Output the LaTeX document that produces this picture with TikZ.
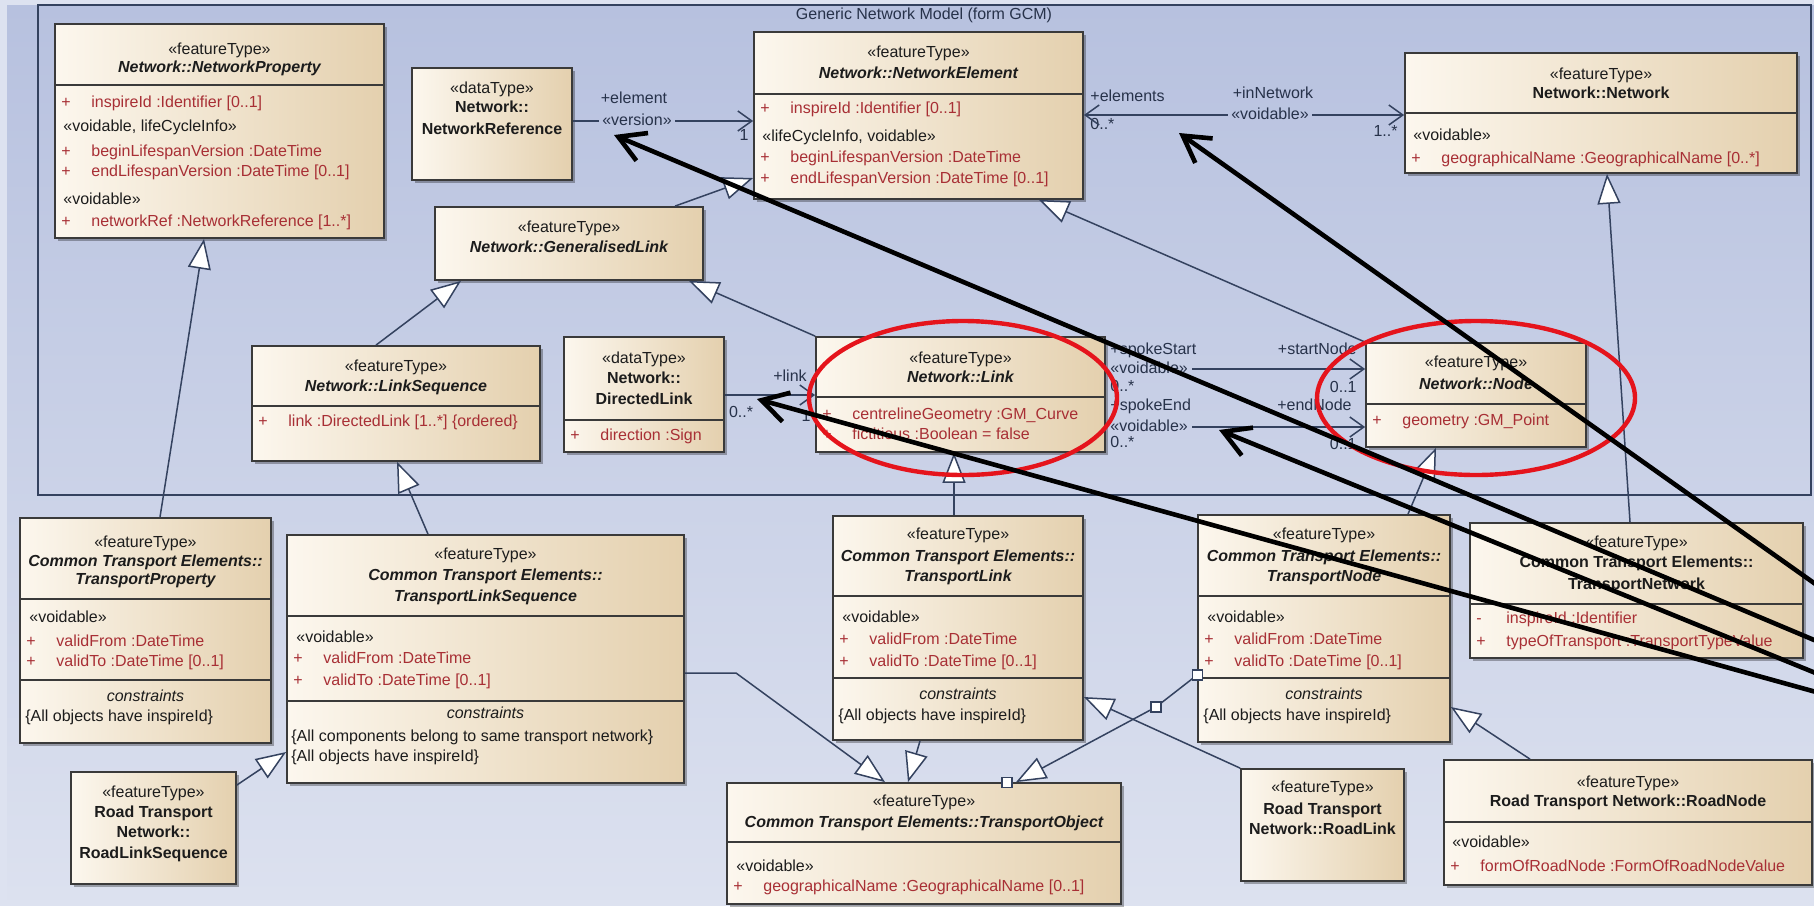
\documentclass[tikz,border=0pt]{standalone}
\usepackage{fontspec}
\setmainfont{Liberation Sans}
\usetikzlibrary{arrows.meta,fit,shadows}

\definecolor{outerbg}{HTML}{DDE2F0}
\definecolor{bgtop}{HTML}{B7C1DF}
\definecolor{bgbot}{HTML}{DCE1EF}
\definecolor{boxl}{HTML}{FCF7EE}
\definecolor{boxr}{HTML}{E4D0AE}
\definecolor{boxline}{HTML}{3A3A3A}
\definecolor{conn}{HTML}{34425F}
\definecolor{ink}{HTML}{1C1C1C}
\definecolor{attrred}{HTML}{A82F35}
\definecolor{lblc}{HTML}{27324A}
\definecolor{ringred}{HTML}{E5141C}

% visibility marker followed by the attribute text
\newcommand\vis[2]{\makebox[15pt][l]{#1}#2}

\begin{document}
\begin{tikzpicture}[x=0.5pt,y=-0.5pt,
  font=\fontsize{8}{10}\selectfont,
  cls/.style={draw=boxline, line width=0.9pt, left color=boxl, right color=boxr, inner sep=0pt,
    drop shadow={shadow xshift=1.6pt, shadow yshift=-1.6pt, opacity=0.3, fill=black}},
  dv/.style={draw=boxline, line width=0.8pt},
  tx/.style={inner sep=0pt, text height=6pt, text depth=1.7pt, text=ink},
  nmi/.style={tx, font=\fontsize{8}{10}\selectfont\bfseries\itshape},
  nmb/.style={tx, font=\fontsize{8}{10}\selectfont\bfseries},
  atr/.style={tx, anchor=west, text=attrred},
  ast/.style={tx, anchor=west},
  cst/.style={tx, font=\fontsize{8}{10}\selectfont\itshape},
  cnl/.style={tx, text=lblc},
  gen/.style={draw=conn, line width=0.75pt, -{Triangle[fill=white, length=15pt, width=11.5pt]}},
  asc/.style={draw=conn, line width=0.75pt},
  nav/.style={asc, -{Straight Barb[length=7pt, width=10pt]}},
  hnd/.style={draw=conn, fill=white, line width=0.6pt, minimum size=5pt, inner sep=0pt},
  ring/.style={draw=ringred, line width=2.2pt},
  pointer/.style={draw=black, line width=2.3pt, -{Straight Barb[length=13pt, width=15pt]}},
]
\useasboundingbox (0,0) rectangle (1814,906);

% ---------- background and package frame ----------
\fill[outerbg] (0,0) rectangle (1814,906);
\shade[top color=bgtop, bottom color=bgbot] (7,5) rectangle (1814,899);
\draw[conn, line width=0.8pt] (38,5) rectangle (1811,495);
\node[cnl] (title) at (924,15) {Generic Network Model (form GCM)};

% ---------- classes of the Network package ----------
\node[cls, fit={(55,24)(384,238)}] (np) {};
\draw[dv] (np.west |- 0,85) -- (np.east |- 0,85);
\node[tx]  (np-s) at (219.5,50) {«featureType»};
\node[nmi] (np-n) at (219.5,68) {Network::NetworkProperty};
\node[atr] (np-a1) at (61,103) {\vis{+}{inspireId :Identifier [0..1]}};
\node[ast] (np-t1) at (63,127) {«voidable, lifeCycleInfo»};
\node[atr] (np-a2) at (61,152) {\vis{+}{beginLifespanVersion :DateTime}};
\node[atr] (np-a3) at (61,172) {\vis{+}{endLifespanVersion :DateTime [0..1]}};
\node[ast] (np-t2) at (63,200) {«voidable»};
\node[atr] (np-a4) at (61,222) {\vis{+}{networkRef :NetworkReference [1..*]}};

\node[cls, fit={(412,68)(572,180)}] (nr) {};
\node[tx]  (nr-s) at (492,89) {«dataType»};
\node[nmb] (nr-n1) at (492,108) {Network::};
\node[nmb] (nr-n2) at (492,130) {NetworkReference};

\node[cls, fit={(754,32)(1083,199)}] (ne) {};
\draw[dv] (ne.west |- 0,94) -- (ne.east |- 0,94);
\node[tx]  (ne-s) at (918.5,53) {«featureType»};
\node[nmi] (ne-n) at (918.5,74) {Network::NetworkElement};
\node[atr] (ne-a1) at (760,109) {\vis{+}{inspireId :Identifier [0..1]}};
\node[ast] (ne-t1) at (762,137) {«lifeCycleInfo, voidable»};
\node[atr] (ne-a2) at (760,158) {\vis{+}{beginLifespanVersion :DateTime}};
\node[atr] (ne-a3) at (760,179) {\vis{+}{endLifespanVersion :DateTime [0..1]}};

\node[cls, fit={(1405,53)(1797,173)}] (nw) {};
\draw[dv] (nw.west |- 0,113) -- (nw.east |- 0,113);
\node[tx]  (nw-s) at (1601,75) {«featureType»};
\node[nmb] (nw-n) at (1601,94) {Network::Network};
\node[ast] (nw-t1) at (1413,136) {«voidable»};
\node[atr] (nw-a1) at (1411,159) {\vis{+}{geographicalName :GeographicalName [0..*]}};

\node[cls, fit={(435,207)(703,280)}] (gl) {};
\node[tx]  (gl-s) at (569,228) {«featureType»};
\node[nmi] (gl-n) at (569,248) {Network::GeneralisedLink};

\node[cls, fit={(252,346)(540,461)}] (ls) {};
\draw[dv] (ls.west |- 0,406) -- (ls.east |- 0,406);
\node[tx]  (ls-s) at (396,367) {«featureType»};
\node[nmi] (ls-n) at (396,387) {Network::LinkSequence};
\node[atr] (ls-a1) at (258,422) {\vis{+}{link :DirectedLink [1..*] \{ordered\}}};

\node[cls, fit={(564,337)(724,452)}] (dl) {};
\draw[dv] (dl.west |- 0,420) -- (dl.east |- 0,420);
\node[tx]  (dl-s) at (644,359) {«dataType»};
\node[nmb] (dl-n1) at (644,379) {Network::};
\node[nmb] (dl-n2) at (644,400) {DirectedLink};
\node[atr] (dl-a1) at (570,436) {\vis{+}{direction :Sign}};

\node[cls, fit={(816,337)(1105,452)}] (lk) {};
\draw[dv] (lk.west |- 0,397) -- (lk.east |- 0,397);
\node[tx]  (lk-s) at (960.5,359) {«featureType»};
\node[nmi] (lk-n) at (960.5,378) {Network::Link};
\node[atr] (lk-a1) at (822,415) {\vis{+}{centrelineGeometry :GM\_Curve}};
\node[atr] (lk-a2) at (822,435) {\vis{+}{fictitious :Boolean = false}};

\node[cls, fit={(1366,343)(1586,447)}] (nd) {};
\draw[dv] (nd.west |- 0,404) -- (nd.east |- 0,404);
\node[tx]  (nd-s) at (1476,363) {«featureType»};
\node[nmi] (nd-n) at (1476,385) {Network::Node};
\node[atr] (nd-a1) at (1372,421) {\vis{+}{geometry :GM\_Point}};

% ---------- Common Transport Elements and Road Transport Network ----------
\node[cls, fit={(20,518)(271,743)}] (tp) {};
\draw[dv] (tp.west |- 0,599) -- (tp.east |- 0,599);
\draw[dv] (tp.west |- 0,680) -- (tp.east |- 0,680);
\node[tx]  (tp-s) at (145.5,543) {«featureType»};
\node[nmi] (tp-n1) at (145.5,562) {Common Transport Elements::};
\node[nmi] (tp-n2) at (145.5,580) {TransportProperty};
\node[ast] (tp-t1) at (29,618) {«voidable»};
\node[atr] (tp-a1) at (26,642) {\vis{+}{validFrom :DateTime}};
\node[atr] (tp-a2) at (26,662) {\vis{+}{validTo :DateTime [0..1]}};
\node[cst] (tp-c) at (145.5,697) {constraints};
\node[ast] (tp-k1) at (25,717) {\{All objects have inspireId\}};

\node[cls, fit={(287,535)(684,783)}] (tls) {};
\draw[dv] (tls.west |- 0,616) -- (tls.east |- 0,616);
\draw[dv] (tls.west |- 0,701) -- (tls.east |- 0,701);
\node[tx]  (tls-s) at (485.5,555) {«featureType»};
\node[nmi] (tls-n1) at (485.5,576) {Common Transport Elements::};
\node[nmi] (tls-n2) at (485.5,597) {TransportLinkSequence};
\node[ast] (tls-t1) at (296,638) {«voidable»};
\node[atr] (tls-a1) at (293,659) {\vis{+}{validFrom :DateTime}};
\node[atr] (tls-a2) at (293,681) {\vis{+}{validTo :DateTime [0..1]}};
\node[cst] (tls-c) at (485.5,714) {constraints};
\node[ast] (tls-k1) at (291,737) {\{All components belong to same transport network\}};
\node[ast] (tls-k2) at (291,757) {\{All objects have inspireId\}};

\node[cls, fit={(833,516)(1083,740)}] (tl) {};
\draw[dv] (tl.west |- 0,596) -- (tl.east |- 0,596);
\draw[dv] (tl.west |- 0,678) -- (tl.east |- 0,678);
\node[tx]  (tl-s) at (958,535) {«featureType»};
\node[nmi] (tl-n1) at (958,557) {Common Transport Elements::};
\node[nmi] (tl-n2) at (958,577) {TransportLink};
\node[ast] (tl-t1) at (842,618) {«voidable»};
\node[atr] (tl-a1) at (839,640) {\vis{+}{validFrom :DateTime}};
\node[atr] (tl-a2) at (839,662) {\vis{+}{validTo :DateTime [0..1]}};
\node[cst] (tl-c) at (958,695) {constraints};
\node[ast] (tl-k1) at (838,716) {\{All objects have inspireId\}};

\node[cls, fit={(1198,515)(1450,742)}] (tn) {};
\draw[dv] (tn.west |- 0,596) -- (tn.east |- 0,596);
\draw[dv] (tn.west |- 0,678) -- (tn.east |- 0,678);
\node[tx]  (tn-s) at (1324,535) {«featureType»};
\node[nmi] (tn-n1) at (1324,557) {Common Transport Elements::};
\node[nmi] (tn-n2) at (1324,577) {TransportNode};
\node[ast] (tn-t1) at (1207,618) {«voidable»};
\node[atr] (tn-a1) at (1204,640) {\vis{+}{validFrom :DateTime}};
\node[atr] (tn-a2) at (1204,662) {\vis{+}{validTo :DateTime [0..1]}};
\node[cst] (tn-c) at (1324,695) {constraints};
\node[ast] (tn-k1) at (1203,716) {\{All objects have inspireId\}};

\node[cls, fit={(1470,523)(1803,658)}] (tw) {};
\draw[dv] (tw.west |- 0,604) -- (tw.east |- 0,604);
\node[tx]  (tw-s) at (1636.5,543) {«featureType»};
\node[nmb] (tw-n1) at (1636.5,563) {Common Transport Elements::};
\node[nmb] (tw-n2) at (1636.5,585) {TransportNetwork};
\node[atr] (tw-a1) at (1476,619) {\vis{-}{inspireId :Identifier}};
\node[atr] (tw-a2) at (1476,642) {\vis{+}{typeOfTransport :TransportTypeValue}};

\node[cls, fit={(71,772)(236,884)}] (rls) {};
\node[tx]  (rls-s) at (153.5,793) {«featureType»};
\node[nmb] (rls-n1) at (153.5,813) {Road Transport};
\node[nmb] (rls-n2) at (153.5,833) {Network::};
\node[nmb] (rls-n3) at (153.5,854) {RoadLinkSequence};

\node[cls, fit={(727,783)(1121,904)}] (to) {};
\draw[dv] (to.west |- 0,842) -- (to.east |- 0,842);
\node[tx]  (to-s) at (924,802) {«featureType»};
\node[nmi] (to-n) at (924,823) {Common Transport Elements::TransportObject};
\node[ast] (to-t1) at (736,867) {«voidable»};
\node[atr] (to-a1) at (733,887) {\vis{+}{geographicalName :GeographicalName [0..1]}};

\node[cls, fit={(1241,769)(1404,881)}] (rl) {};
\node[tx]  (rl-s) at (1322.5,788) {«featureType»};
\node[nmb] (rl-n1) at (1322.5,810) {Road Transport};
\node[nmb] (rl-n2) at (1322.5,830) {Network::RoadLink};

\node[cls, fit={(1444,760)(1812,885)}] (rn) {};
\draw[dv] (rn.west |- 0,822) -- (rn.east |- 0,822);
\node[tx]  (rn-s) at (1628,783) {«featureType»};
\node[nmb] (rn-n) at (1628,802) {Road Transport Network::RoadNode};
\node[ast] (rn-t1) at (1452,843) {«voidable»};
\node[atr] (rn-a1) at (1450,867) {\vis{+}{formOfRoadNode :FormOfRoadNodeValue}};

% ---------- generalizations ----------
\draw[gen] (160,0 |- tp.north) -- (204,0 |- np.south);
\draw[gen] (376,0 |- ls.north) -- (461,0 |- gl.south);
\draw[gen] (675,0 |- gl.north) -- (ne.west |- 0,178);
\draw[gen] (lk.north west) -- (689,0 |- gl.south);
\draw[gen] (nd.north west) -- (1039,0 |- ne.south);
\draw[gen] (954,0 |- tl.north) -- (954,0 |- lk.south);
\draw[gen] (1408,0 |- tn.north) -- (1436,0 |- nd.south);
\draw[gen] (1630,0 |- tw.north) -- (1607,0 |- nw.south);
\draw[gen] (428,0 |- tls.north) -- (397,0 |- ls.south);
\draw[gen] (rls.east |- 0,785) -- (tls.west |- 0,752);
\draw[gen] (tls.east |- 0,673) -- (736,673) -- (885,0 |- to.north);
\draw[gen] (920,0 |- tl.south) -- (908,0 |- to.north);
\coordinate (tnb1) at (tn.west |- 0,675);
\coordinate (tnb2) at (1156,707);
\coordinate (tnb3) at (1007,0 |- to.north);
\draw[gen] (tnb1) -- (tnb2) -- (1016,0 |- to.north);
\node[hnd] (tnh1) at (tnb1) {};
\node[hnd] (tnh2) at (tnb2) {};
\node[hnd] (tnh3) at (tnb3) {};
\draw[gen] (rl.north west) -- (tl.east |- 0,697);
\draw[gen] (1530,0 |- rn.north) -- (tn.east |- 0,707);

% ---------- associations ----------
\node[cnl] (el1) at (634,99) {+element};
\node[cnl] (ver) at (637,121) {«version»};
\node[cnl] (one1) at (744,136) {1};
\draw[asc] (nr.east |- ver) -- ([xshift=-1.5pt]ver.west);
\draw[nav] ([xshift=1.5pt]ver.east) -- (ne.west |- ver);

\node[cnl, anchor=west] (els) at (1090,97) {+elements};
\node[cnl, anchor=west] (zm1) at (1090,125) {0..*};
\node[cnl] (inn) at (1273,94) {+inNetwork};
\node[cnl] (nv) at (1270,115) {«voidable»};
\node[cnl, anchor=east] (om) at (1398,132) {1..*};
\draw[asc, {Straight Barb[length=7pt, width=10pt]}-] (ne.east |- nv) -- ([xshift=-1.5pt]nv.west);
\draw[nav] ([xshift=1.5pt]nv.east) -- (nw.west |- nv);

\node[cnl] (lnk) at (790,377) {+link};
\node[cnl] (zm2) at (741,413) {0..*};
\node[cnl] (one2) at (806,417) {1};
\draw[nav] (dl.east |- 0,395) -- (lk.west |- 0,395);

\node[cnl, anchor=west] (sps) at (1110,350) {+spokeStart};
\node[cnl, anchor=west] (sv1) at (1110,369) {«voidable»};
\node[cnl, anchor=west] (zm3) at (1110,387) {0..*};
\node[cnl, anchor=west] (spe) at (1110,406) {+spokeEnd};
\node[cnl, anchor=west] (sv2) at (1110,427) {«voidable»};
\node[cnl, anchor=west] (zm4) at (1110,443) {0..*};
\node[cnl, anchor=east] (stn) at (1357,350) {+startNode};
\node[cnl, anchor=east] (o1) at (1357,388) {0..1};
\node[cnl, anchor=east] (enn) at (1352,406) {+endNode};
\node[cnl, anchor=east] (o2) at (1357,445) {0..1};
\draw[nav] ([xshift=2pt]sv1.east) -- (nd.west |- sv1);
\draw[nav] ([xshift=2pt]sv2.east) -- (nd.west |- sv2);

% ---------- highlight rings ----------
\draw[ring] (963,398) ellipse [x radius=77pt, y radius=38.5pt];
\draw[ring] (1476,398) ellipse [x radius=79.5pt, y radius=38.5pt];

% ---------- pointer arrows coming in from the right ----------
\begin{scope}
\clip (0,0) rectangle (1814,906);
\coordinate (pa) at (1179,133);
\coordinate (pa0) at (1845,605);
\coordinate (pb) at (614,135);
\coordinate (pb0) at (1845,653);
\coordinate (pc) at (757,399);
\coordinate (pc0) at (1845,700);
\coordinate (pd) at (1219,430);
\coordinate (pd0) at (1845,685);
\draw[pointer] (pa0) -- (pa);
\draw[pointer] (pb0) -- (pb);
\draw[pointer] (pc0) -- (pc);
\draw[pointer] (pd0) -- (pd);
\end{scope}
\end{tikzpicture}
\end{document}
